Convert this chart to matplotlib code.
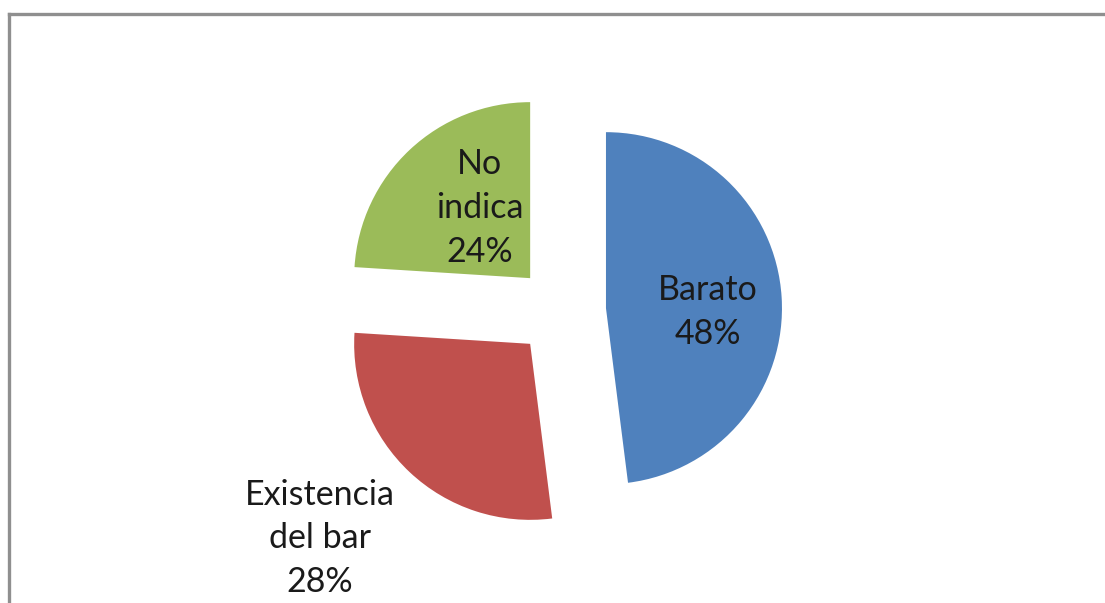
import numpy as np
import matplotlib
matplotlib.use("Agg")
import matplotlib.pyplot as plt
from matplotlib.lines import Line2D

# data
categories = ["Barato", "Existencia\ndel bar", "No\nindica"]
shares = [48, 28, 24]
colors = ["#4F81BD", "#C0504D", "#9BBB59"]

W, H = 1105, 603
R_PX = 176.0          # pie radius in pixels
CX, CY = 561, 311     # pie centre, pixels from top-left
explode_frac = 0.256
label_dist = [0.58, 1.61, 0.50]
# small nudges (pixels, right / up) so labels sit where the original put them
label_nudge = [(0, -10), (-16, 12), (10, 6)]

fig = plt.figure(figsize=(W / 100, H / 100), dpi=100)
ax = fig.add_axes([0, 0, 1, 1])

wedges, _ = ax.pie(shares, colors=colors, startangle=90, counterclock=False,
                   explode=[explode_frac] * len(shares), radius=1.0,
                   wedgeprops=dict(linewidth=0, antialiased=True))

# pie() resets limits, so fix the scale afterwards
ax.set_xlim(-CX / R_PX, (W - CX) / R_PX)
ax.set_ylim(-(H - CY) / R_PX, CY / R_PX)
ax.set_aspect("equal")
ax.axis("off")

for w, name, pct, d, (nx, ny) in zip(wedges, categories, shares, label_dist, label_nudge):
    mid = np.deg2rad((w.theta1 + w.theta2) / 2)
    x0, y0 = w.center
    ax.text(x0 + d * np.cos(mid) + nx / R_PX, y0 + d * np.sin(mid) + ny / R_PX,
            f"{name}\n{pct}%",
            ha="center", va="center", multialignment="center",
            fontsize=24.5, family="Lato", color="#1a1a1a", linespacing=1.45)

# chart frame (only top and left edges are visible)
frame = dict(color="#8f8f8f", linewidth=2.4, solid_capstyle="projecting")
fig.add_artist(Line2D([8.5 / W, 1.01], [1 - 13.5 / H] * 2, transform=fig.transFigure, **frame))
fig.add_artist(Line2D([8.5 / W] * 2, [-0.01, 1 - 13.5 / H], transform=fig.transFigure, **frame))

fig.savefig("out.png", dpi=100, facecolor="white")
